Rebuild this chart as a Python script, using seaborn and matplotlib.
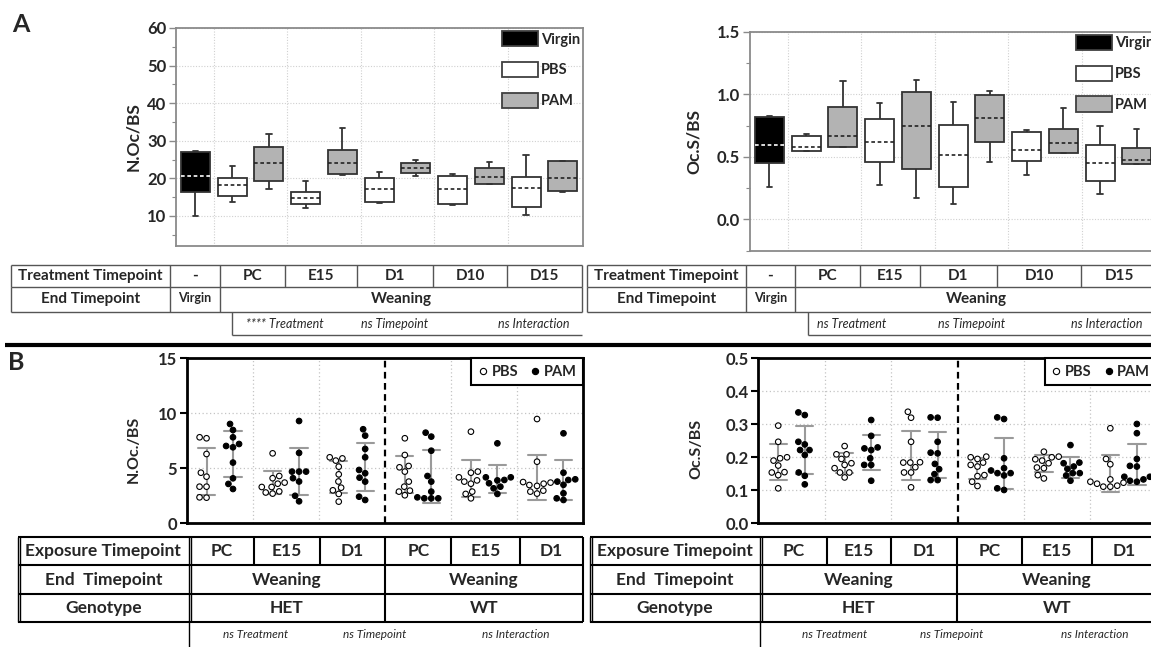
import numpy as np
import pandas as pd
import matplotlib
matplotlib.use("Agg")
import matplotlib.pyplot as plt
from matplotlib.patches import Patch
from matplotlib.lines import Line2D
import seaborn as sns

####################################################################################################
# Panel A: box summaries (low whisker, Q1, median, Q3, high whisker)

a_boxes = ['Virgin', 'PC PBS', 'PC PAM', 'E15 PBS', 'E15 PAM', 'D1 PBS', 'D1 PAM',
           'D10 PBS', 'D10 PAM', 'D15 PBS', 'D15 PAM']
a_treat = ['Virgin'] + ['PBS', 'PAM'] * 5

noc_low = [9.85, 13.8, 17.2, 12.1, 21.0, 13.4, 20.5, 12.85, 18.5, 10.3, 16.3]
noc_q1 = [16.3, 15.35, 19.4, 13.05, 21.1, 13.65, 21.3, 13.1, 18.55, 12.4, 16.7]
noc_med = [20.5, 18.1, 23.95, 14.8, 24.2, 17.2, 22.7, 17.1, 20.3, 17.4, 20.0]
noc_q3 = [26.9, 20.05, 28.4, 16.3, 27.6, 20.0, 24.05, 20.5, 22.8, 20.4, 24.5]
noc_high = [27.4, 23.2, 31.8, 19.2, 33.3, 21.8, 24.9, 21.2, 24.4, 26.3, 24.5]

ocs_low = [0.26, 0.544, 0.576, 0.276, 0.173, 0.125, 0.457, 0.358, 0.528, 0.207, 0.441]
ocs_q1 = [0.454, 0.544, 0.576, 0.459, 0.401, 0.263, 0.621, 0.47, 0.528, 0.308, 0.441]
ocs_med = [0.592, 0.576, 0.664, 0.621, 0.743, 0.515, 0.81, 0.555, 0.608, 0.454, 0.475]
ocs_q3 = [0.82, 0.664, 0.895, 0.802, 1.02, 0.757, 0.998, 0.701, 0.725, 0.597, 0.574]
ocs_high = [0.828, 0.68, 1.107, 0.929, 1.115, 0.94, 1.027, 0.717, 0.887, 0.743, 0.72]

a_top_row = ['-', 'PC', 'E15', 'D1', 'D10', 'D15']

####################################################################################################
# Panel B: individual animals per group

b_groups = ['HET PC', 'HET E15', 'HET D1', 'WT PC', 'WT E15', 'WT D1']
b_top_row = ['PC', 'E15', 'D1', 'PC', 'E15', 'D1']

noc_pbs = [[7.73, 7.82, 6.3, 4.24, 4.6, 3.33, 3.33, 2.33, 2.36],
           [6.36, 4.3, 4.1, 3.7, 3.6, 3.3, 3.3, 2.9, 2.7, 2.8],
           [5.9, 5.7, 6.0, 5.15, 4.45, 3.8, 3.0, 3.24, 2.67, 1.97],
           [7.73, 6.21, 5.21, 5.09, 4.7, 3.79, 3.33, 2.97, 2.88, 2.55],
           [8.33, 4.7, 4.6, 4.18, 3.9, 3.79, 3.6, 2.88, 2.67, 2.27],
           [9.48, 5.6, 3.75, 3.7, 3.6, 3.48, 3.4, 2.97, 2.88, 2.7]]
noc_pam = [[9.03, 8.48, 7.82, 7.03, 7.21, 6.91, 5.52, 4.09, 3.12, 3.58],
           [9.3, 6.4, 4.7, 4.7, 4.7, 4.1, 3.8, 2.5, 2.0],
           [8.55, 7.97, 6.76, 6.0, 4.55, 4.15, 4.85, 3.79, 2.12, 2.42],
           [7.88, 8.24, 6.6, 3.79, 4.3, 2.88, 2.27, 2.27, 2.27, 2.36],
           [7.27, 4.18, 4.18, 3.94, 3.64, 3.33, 3.18, 2.67, 3.9],
           [8.18, 4.6, 4.0, 3.94, 3.79, 3.5, 2.73, 2.12, 2.27]]
ocs_pbs = [[.296, .247, .20, .197, .19, .175, .154, .146, .106, .155],
           [.234, .209, .209, .195, .182, .177, .167, .154, .154, .139],
           [.32, .338, .247, .184, .184, .17, .154, .154, .109, .185],
           [.202, .2, .195, .184, .177, .172, .146, .143, .126, .113],
           [.217, .202, .2, .194, .19, .182, .169, .167, .146, .136],
           [.288, .195, .179, .133, .126, .123, .12, .114, .111, .111]]
ocs_pam = [[.328, .336, .247, .239, .222, .222, .207, .154, .144, .118],
           [.313, .265, .227, .23, .222, .197, .177, .177, .129],
           [.32, .321, .247, .212, .214, .18, .149, .164, .131, .131],
           [.316, .321, .197, .167, .16, .152, .152, .145, .101, .106],
           [.237, .182, .184, .172, .165, .152, .152, .145, .129],
           [.301, .273, .195, .174, .172, .141, .141, .133, .129, .126]]

####################################################################################################

sns.set_theme(style='white')
plt.rcParams['font.family'] = ['Lato', 'DejaVu Sans']
plt.rcParams['font.weight'] = 'bold'
plt.rcParams['axes.labelweight'] = 'bold'

W, H = 1151, 647
fig = plt.figure(figsize=(W / 100, H / 100), dpi=100)


def rect(x0, y0, x1, y1):
    return [x0 / W, 1 - y1 / H, (x1 - x0) / W, (y1 - y0) / H]


a_palette = {'Virgin': 'black', 'PBS': 'white', 'PAM': '#b3b3b3'}
dash = (0, (2.2, 1.6))


def box_panel(ax, low, q1, med, q3, high):
    df = pd.DataFrame({'box': np.repeat(a_boxes, 5),
                       'treat': np.repeat(a_treat, 5),
                       'value': np.column_stack([low, q1, med, q3, high]).ravel()})
    common = dict(x='box', y='value', hue='treat', order=a_boxes,
                  hue_order=['Virgin', 'PBS', 'PAM'], palette=a_palette, dodge=False,
                  width=0.79, whis=(0, 100), saturation=1, linecolor='#333333',
                  linewidth=1.3, legend=False, ax=ax, capwidths=0.14)
    sns.boxplot(data=df[df.treat == 'Virgin'],
                medianprops=dict(color='white', linestyle=dash, linewidth=1.2), **common)
    sns.boxplot(data=df[df.treat != 'Virgin'],
                medianprops=dict(color='#222222', linestyle=dash, linewidth=1.2), **common)
    ax.set_xlim(-0.53, 10.55)
    ax.set_xticks([])
    ax.set_xticks([0.5, 2.5, 4.5, 6.5, 8.5], minor=True)
    ax.set_xlabel('')
    ax.grid(True, which='major', axis='y', color='#d0d0d0', linestyle=(0, (1, 1.5)), lw=0.8)
    ax.grid(True, which='minor', axis='x', color='#d0d0d0', linestyle=(0, (1, 1.5)), lw=0.8)
    ax.set_axisbelow(True)
    for s in ax.spines.values():
        s.set_color('#8a8a8a')
        s.set_linewidth(1.3)
    ax.tick_params(axis='y', which='both', left=True, direction='out', color='#8a8a8a',
                   labelsize=12, pad=2)
    ax.tick_params(axis='y', which='major', length=5, width=1)
    ax.tick_params(axis='y', which='minor', length=3, width=0.8)
    ax.tick_params(axis='x', which='both', bottom=False, length=0)
    handles = [Patch(facecolor=a_palette[k], edgecolor='#404040', lw=1.3, label=k)
               for k in ['Virgin', 'PBS', 'PAM']]
    ax.legend(handles=handles, loc='upper right', frameon=False, handlelength=2.5,
              handleheight=1.25, labelspacing=1.05, handletextpad=0.2, borderaxespad=0.1,
              borderpad=0.1, prop=dict(weight='bold', size=10.5))


def dot_panel(ax, pbs, pam):
    df = pd.DataFrame({
        'group': [g for i, g in enumerate(b_groups) for _ in pbs[i]]
                 + [g for i, g in enumerate(b_groups) for _ in pam[i]],
        'treat': ['PBS'] * sum(map(len, pbs)) + ['PAM'] * sum(map(len, pam)),
        'value': [v for vals in pbs for v in vals] + [v for vals in pam for v in vals]})
    sns.pointplot(data=df, x='group', y='value', hue='treat', order=b_groups,
                  hue_order=['PBS', 'PAM'], dodge=0.4, errorbar='sd', capsize=0.26,
                  palette={'PBS': '#9a9a9a', 'PAM': '#9a9a9a'}, marker='', linestyle='none',
                  err_kws={'linewidth': 1.5}, legend=False, ax=ax)
    sns.swarmplot(data=df, x='group', y='value', hue='treat', order=b_groups,
                  hue_order=['PBS', 'PAM'], dodge=True,
                  palette={'PBS': 'white', 'PAM': 'black'}, edgecolor='black', linewidth=0.8,
                  size=4.0, legend=False, ax=ax, zorder=3)
    ax.set_xlim(-0.5, 5.5)
    ax.set_xticks([])
    ax.set_xticks([0.5, 1.5, 3.5, 4.5], minor=True)
    ax.set_xlabel('')
    ax.grid(True, which='major', axis='y', color='#c4c4c4', linestyle=(0, (1, 2)), lw=0.9)
    ax.grid(True, which='minor', axis='x', color='#c4c4c4', linestyle=(0, (1, 2)), lw=0.9)
    ax.set_axisbelow(True)
    ax.axvline(2.5, color='black', lw=1.6, linestyle=(0, (3, 2)), zorder=2)
    for s in ax.spines.values():
        s.set_color('black')
        s.set_linewidth(2)
    ax.tick_params(axis='y', which='major', left=True, direction='out', color='black',
                   length=5, width=1.5, labelsize=12, pad=2)
    ax.tick_params(axis='x', which='both', bottom=False, length=0)
    handles = [Line2D([], [], marker='o', ls='none', mfc='white', mec='black', mew=0.8,
                      ms=4.5, label='PBS'),
               Line2D([], [], marker='o', ls='none', mfc='black', mec='black', mew=0.8,
                      ms=4.5, label='PAM')]
    leg = ax.legend(handles=handles, loc='upper right', ncol=2, frameon=True, fancybox=False,
                    edgecolor='black', framealpha=1, borderaxespad=0, handletextpad=0.25,
                    columnspacing=0.8, borderpad=0.45, handlelength=0.7,
                    prop=dict(weight='bold', size=10.5))
    leg.get_frame().set_linewidth(1.5)


# ---- panel A plots
ax1 = fig.add_axes(rect(176, 28, 583, 246))
box_panel(ax1, noc_low, noc_q1, noc_med, noc_q3, noc_high)
ax1.set_ylim(2, 60)
ax1.set_yticks([10, 20, 30, 40, 50, 60])
ax1.set_yticks([5, 15, 25, 35, 45, 55], minor=True)
ax1.set_ylabel('N.Oc/BS', fontsize=12.5)
ax1.yaxis.set_label_coords(-0.086, 0.5)

ax2 = fig.add_axes(rect(750, 31.7, 1157, 250.7))
box_panel(ax2, ocs_low, ocs_q1, ocs_med, ocs_q3, ocs_high)
ax2.set_ylim(-0.245, 1.5)
ax2.set_yticks([0.0, 0.5, 1.0, 1.5])
ax2.set_yticks([-0.25, 0.25, 0.75, 1.25], minor=True)
ax2.set_yticklabels(['0.0', '0.5', '1.0', '1.5'])
ax2.set_ylabel('Oc.S/BS', fontsize=12.5)
ax2.yaxis.set_label_coords(-0.118, 0.5)

# ---- panel B plots
ax3 = fig.add_axes(rect(186.7, 358.3, 583.3, 523.3))
ax3.set_ylim(0, 15)
dot_panel(ax3, noc_pbs, noc_pam)
ax3.set_ylim(0, 15)
ax3.set_yticks([0, 5, 10, 15])
ax3.set_ylabel('N.Oc./BS', fontsize=11.5)
ax3.yaxis.set_label_coords(-0.115, 0.45)

ax4 = fig.add_axes(rect(758.3, 358.3, 1156.8, 523.3))
ax4.set_ylim(0, 0.5)
dot_panel(ax4, ocs_pbs, ocs_pam)
ax4.set_ylim(0, 0.5)
ax4.set_yticks([0.0, 0.1, 0.2, 0.3, 0.4, 0.5])
ax4.set_yticklabels(['0.0', '0.1', '0.2', '0.3', '0.4', '0.5'])
ax4.set_ylabel('Oc.S/BS', fontsize=11.5)
ax4.yaxis.set_label_coords(-0.139, 0.45)

####################################################################################################
# Tables under the plots, drawn in pixel coordinates on a blank overlay

ov = fig.add_axes([0, 0, 1, 1])
ov.set_xlim(0, W)
ov.set_ylim(H, 0)
ov.axis('off')


def hl(x0, x1, y, **kw):
    ov.plot([x0, x1], [y, y], solid_capstyle='butt', **kw)


def vl(x, y0, y1, **kw):
    ov.plot([x, x], [y0, y1], solid_capstyle='butt', **kw)


def txt(x, y, s, size, **kw):
    ov.text(x, y, s, ha='center', va='center', fontsize=size, **kw)


def table_a(cols, stat_x0, stats, stat_pos):
    kw = dict(color='#555555', lw=1.0)
    r = [265, 287, 312, 335]
    for y in r[:3]:
        hl(cols[0], cols[-1], y, **kw)
    for x in cols:
        vl(x, r[0], r[1], **kw)
    for x in [cols[0], cols[1], cols[2], cols[-1]]:
        vl(x, r[1], r[2], **kw)
    vl(stat_x0, r[2], r[3], **kw)
    hl(stat_x0, cols[-1], r[3], **kw)
    yc = [(r[i] + r[i + 1]) / 2 for i in range(3)]
    txt((cols[0] + cols[1]) / 2, yc[0], 'Treatment Timepoint', 11, fontweight='bold')
    for i, lab in enumerate(a_top_row):
        txt((cols[i + 1] + cols[i + 2]) / 2, yc[0], lab, 11, fontweight='bold')
    txt((cols[0] + cols[1]) / 2, yc[1], 'End Timepoint', 11, fontweight='bold')
    txt((cols[1] + cols[2]) / 2, yc[1] - 1, 'Virgin', 9, fontweight='bold')
    txt((cols[2] + cols[-1]) / 2, yc[1], 'Weaning', 11, fontweight='bold')
    for s, x in zip(stats, stat_pos):
        txt(x, yc[2], s, 9, fontweight='normal', style='italic')


table_a([11, 170, 220, 285, 357, 433, 507, 582], 232,
        ['**** Treatment', 'ns Timepoint', 'ns Interaction'], [285, 395, 534])
table_a([587, 746, 795, 860, 920, 997, 1081, 1157], 807.6,
        ['ns Treatment', 'ns Timepoint', 'ns Interaction'], [852, 972, 1107])

# separator between A and B
hl(5, W, 345, color='black', lw=3)


def table_b(cols, stats, stat_pos):
    kw = dict(color='black', lw=1.5)
    r = [536.7, 565, 594, 622.3, 647]
    for y in r[:4]:
        hl(cols[0], cols[-1], y, **kw)
    for x in cols[2:]:
        vl(x, r[0], r[1], **kw)
    for x in [cols[4], cols[-1]]:
        vl(x, r[1], r[3], **kw)
    for x in [cols[0], cols[1]]:
        vl(x, r[0], r[3], color='black', lw=1.0)
        vl(x + 2.5, r[0], r[3], color='black', lw=1.0)
    vl(cols[1], r[3], r[4], color='black', lw=1.0)
    yc = [(r[i] + r[i + 1]) / 2 for i in range(4)]
    txt((cols[0] + cols[1]) / 2, yc[0], 'Exposure Timepoint', 12.5, fontweight='bold')
    for i, lab in enumerate(b_top_row):
        txt((cols[i + 1] + cols[i + 2]) / 2, yc[0], lab, 12.5, fontweight='bold')
    txt((cols[0] + cols[1]) / 2, yc[1], 'End  Timepoint', 12.5, fontweight='bold')
    txt((cols[1] + cols[4]) / 2, yc[1], 'Weaning', 12.5, fontweight='bold')
    txt((cols[4] + cols[-1]) / 2, yc[1], 'Weaning', 12.5, fontweight='bold')
    txt((cols[0] + cols[1]) / 2, yc[2], 'Genotype', 12.5, fontweight='bold')
    txt((cols[1] + cols[4]) / 2, yc[2], 'HET', 12.5, fontweight='bold')
    txt((cols[4] + cols[-1]) / 2, yc[2], 'WT', 12.5, fontweight='bold')
    for s, x in zip(stats, stat_pos):
        txt(x, yc[3], s, 8.5, fontweight='normal', style='italic')


table_b([18, 188.7, 254, 320, 385, 451.4, 519.8, 583],
        ['ns Treatment', 'ns Timepoint', 'ns Interaction'], [256, 375, 516])
table_b([590, 760, 827, 891, 957, 1022, 1092, 1157],
        ['ns Treatment', 'ns Timepoint', 'ns Interaction'], [835, 952, 1095])

# panel letters
ov.text(21, 24, 'A', ha='center', va='center', fontsize=18, fontweight='bold')
ov.text(16, 362, 'B', ha='center', va='center', fontsize=18, fontweight='bold')

fig.savefig('out.png', dpi=100)
